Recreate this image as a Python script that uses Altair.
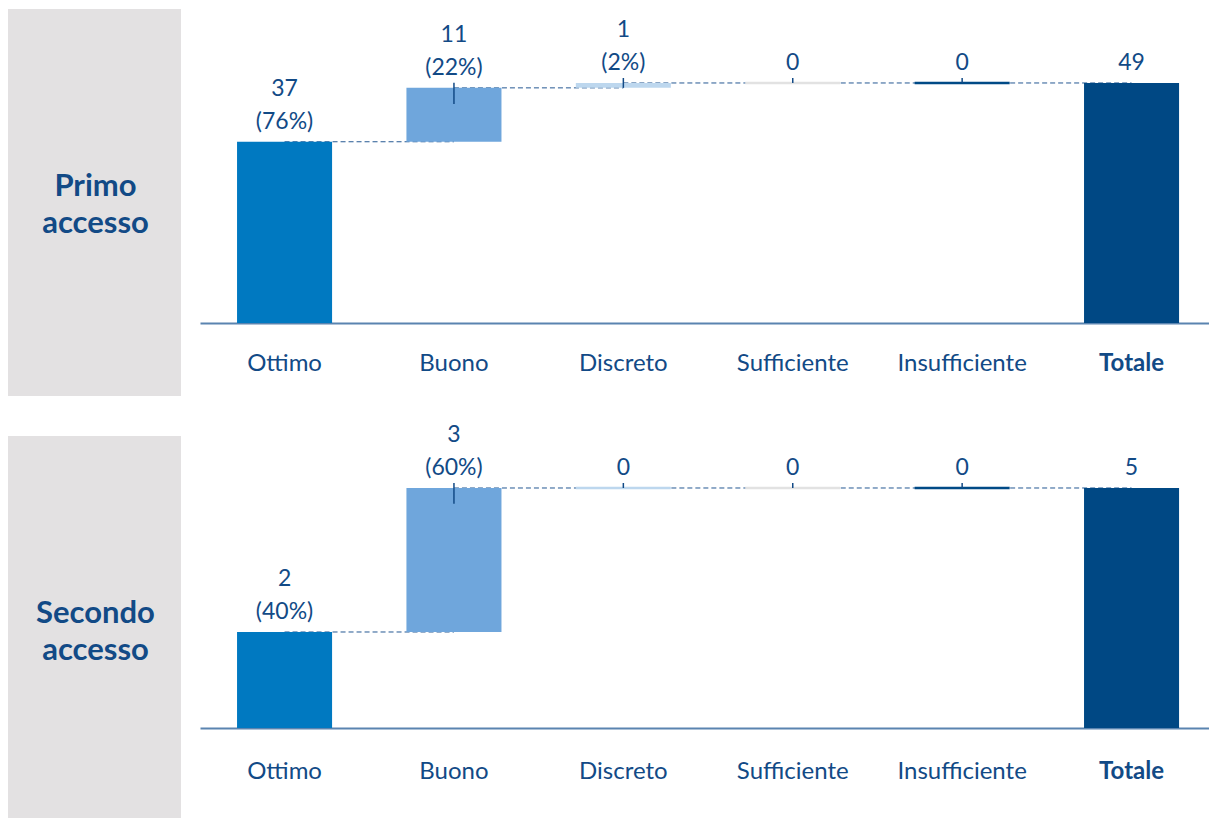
import altair as alt
import pandas as pd

# Rating categories and their bar colours
categories = ["Ottimo", "Buono", "Discreto", "Sufficiente", "Insufficiente", "Totale"]
bar_colors = ["#0079c1", "#6fa6dc", "#bdd7ee", "#e2e2e2", "#004a86", "#004884"]

# Counts and shares per rating (the total is the sum)
primo_counts = [37, 11, 1, 0, 0]
primo_pct = [76, 22, 2, 0, 0]
secondo_counts = [2, 3, 0, 0, 0]
secondo_pct = [40, 60, 0, 0, 0]

panel_titles = ["Primo\naccesso", "Secondo\naccesso"]

TEXT = "#124a86"
FONT = "Lato"
PLOT_W = 1009
BOX_W = 173
BOX_GAP = 19


def waterfall_frame(counts, pct):
    rows = []
    level = 0
    for cat, n, p in zip(categories[:-1], counts, pct):
        rows.append(dict(cat=cat, start=level, end=level + n, value=n,
                         line1=str(n) if n else "",
                         line2=f"({p}%)" if n else "0"))
        level += n
    rows.append(dict(cat="Totale", start=0, end=level, value=level,
                     line1="", line2=str(level)))
    return pd.DataFrame(rows)


def connector_frame(df):
    # each connector joins one bar to the next at the running level
    rows = []
    for i in range(len(df) - 1):
        lvl = df["end"].iloc[i]
        rows.append(dict(seg=i, cat=df["cat"].iloc[i], level=lvl))
        rows.append(dict(seg=i, cat=df["cat"].iloc[i + 1], level=lvl))
    return pd.DataFrame(rows)


def panel(title, counts, pct, height, ymax, tick_depth, label_y, box_h):
    df = waterfall_frame(counts, pct)
    conn = connector_frame(df)
    ticks = df[df["cat"].isin(["Buono", "Discreto", "Sufficiente", "Insufficiente"])].copy()
    ticks["lo"] = [max(s, e - tick_depth) for s, e in zip(ticks["start"], ticks["end"])]

    xsc = alt.Scale(domain=categories, paddingInner=0.439, paddingOuter=0.1977, align=0.553)
    ysc = alt.Scale(domain=[0, ymax], nice=False, zero=True)
    csc = alt.Scale(domain=categories, range=bar_colors)
    X = alt.X("cat:N", scale=xsc, sort=categories,
              axis=alt.Axis(title=None, labels=False, ticks=False, grid=False,
                            domainColor="#5a84b0", domainWidth=2))
    C = alt.Color("cat:N", scale=csc, legend=None)

    base = alt.Chart(df)
    connectors = alt.Chart(conn).mark_line(
        strokeDash=[5, 3], strokeWidth=1, color="#245892"
    ).encode(x=X, y=alt.Y("level:Q", scale=ysc, axis=None), detail="seg:N")
    bars = base.mark_bar().encode(
        x=X, y=alt.Y("end:Q", scale=ysc, axis=None), y2="start:Q", color=C,
    )
    zero_lines = base.transform_filter("datum.value == 0").mark_tick(
        size=95, thickness=2.5, opacity=1
    ).encode(x=X, y=alt.Y("end:Q", scale=ysc), color=C)
    tick_marks = alt.Chart(ticks).mark_rule(color=TEXT, strokeWidth=1.5, y2Offset=-5).encode(
        x=X, y=alt.Y("lo:Q", scale=ysc), y2="end:Q",
    )
    line1 = base.mark_text(font=FONT, fontSize=23, color=TEXT, dy=-53).encode(
        x=X, y=alt.Y("end:Q", scale=ysc), text="line1:N",
    )
    line2 = base.mark_text(font=FONT, fontSize=23, color=TEXT, dy=-20).encode(
        x=X, y=alt.Y("end:Q", scale=ysc), text="line2:N",
    )
    # category labels under the axis, the total in bold
    cat_labels = base.transform_filter("datum.cat != 'Totale'").mark_text(
        font=FONT, fontSize=24, color=TEXT
    ).encode(x=X, y=alt.value(label_y), text="cat:N")
    total_label = base.transform_filter("datum.cat == 'Totale'").mark_text(
        font=FONT, fontSize=24, fontWeight="bold", color=TEXT
    ).encode(x=X, y=alt.value(label_y), text="cat:N")

    # grey title box to the left of the plot
    one = pd.DataFrame({"label": [title]})
    box = alt.Chart(one).mark_rect(color="#e3e1e2").encode(
        x=alt.value(-BOX_GAP - BOX_W), x2=alt.value(-BOX_GAP),
        y=alt.value(0), y2=alt.value(box_h),
    )
    box_text = alt.Chart(one).mark_text(
        font=FONT, fontWeight="bold", fontSize=31, lineHeight=37, color=TEXT,
        align="center", baseline="middle", lineBreak="\n",
    ).encode(x=alt.value(-BOX_GAP - BOX_W / 2 + 1), y=alt.value(178), text="label:N")

    return alt.layer(box, box_text, connectors, bars, zero_lines, tick_marks,
                     line1, line2, cat_labels, total_label).properties(
        width=PLOT_W, height=height
    )


top = panel(panel_titles[0], primo_counts, primo_pct, 314, 64.1, 3.27, 355, 387)
bottom = panel(panel_titles[1], secondo_counts, secondo_pct, 292, 6.083, 0.33, 336, 382)

chart = alt.vconcat(top, bottom, spacing=27).properties(
    padding={"left": 8, "top": 9, "right": 0, "bottom": 0}
).configure_view(strokeWidth=0)

chart.save("out.html", embed_options={"renderer": "svg", "actions": False})
